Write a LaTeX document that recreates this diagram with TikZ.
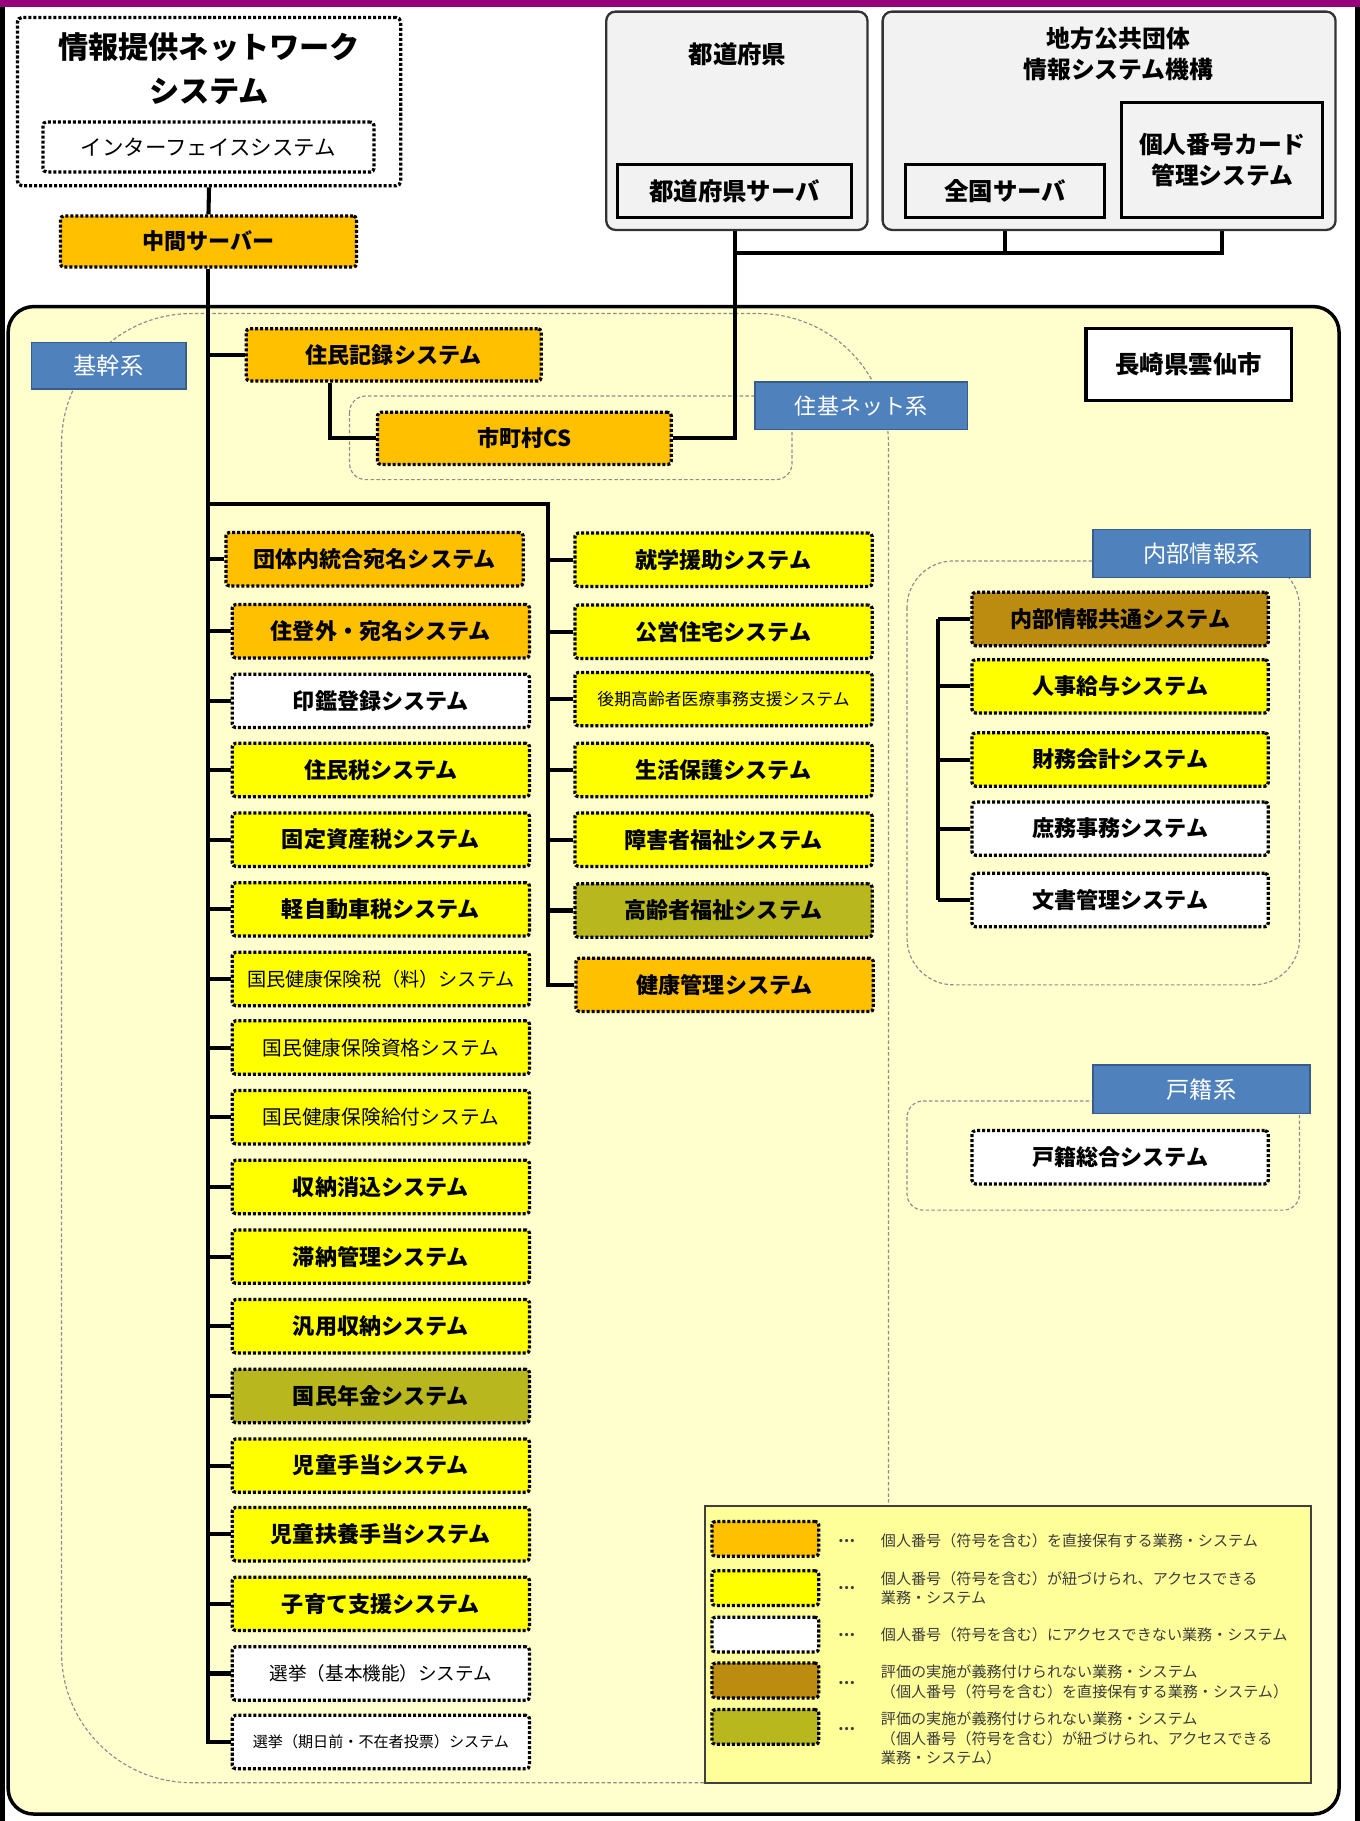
\documentclass[tikz,border=0pt]{standalone}
\usepackage{fontspec}
\newfontfamily\jp{Noto Sans CJK JP}
\definecolor{purpleband}{RGB}{150,0,120}
\definecolor{orng}{RGB}{255,192,0}
\definecolor{ylw}{RGB}{255,255,0}
\definecolor{brwn}{RGB}{188,140,16}
\definecolor{olv}{RGB}{184,184,30}
\definecolor{bigfill}{RGB}{255,255,206}
\definecolor{legfill}{RGB}{255,255,153}
\definecolor{lblue}{RGB}{79,129,189}
\definecolor{lblueb}{RGB}{56,93,138}
\definecolor{grayfill}{RGB}{242,242,242}
\definecolor{regline}{RGB}{140,140,140}
\definecolor{legtext}{RGB}{60,60,60}
\pgfdeclarelayer{bg}
\pgfdeclarelayer{conn}
\pgfsetlayers{bg,conn,main}
\tikzset{
  sysbox/.style={draw=black, line width=2.8pt, dash pattern=on 2.6pt off 1.7pt,
    rounded corners=3pt, minimum width=256pt, minimum height=46pt, inner sep=0pt, text=black},
  orbox/.style={sysbox, fill=orng},
  ylbox/.style={sysbox, fill=ylw},
  whbox/.style={sysbox, fill=white},
  brbox/.style={sysbox, fill=brwn},
  olbox/.style={sysbox, fill=olv},
  bt/.style={font=\jp\bfseries\fontsize{#1}{#1}\selectfont},
  rt/.style={font=\jp\fontsize{#1}{#1}\selectfont},
  graybox/.style={draw=black!80, line width=2pt, fill=grayfill, rounded corners=8pt},
  srvbox/.style={draw=black, line width=2.5pt, fill=grayfill, inner sep=0pt},
  lbl/.style={draw=lblueb, line width=1.2pt, fill=lblue, text=white, inner sep=0pt,
    font=\jp\fontsize{20}{20}\selectfont},
  region/.style={draw=regline, line width=1pt, dash pattern=on 3pt off 2pt},
  conn/.style={draw=black, line width=3.5pt},
  swatch/.style={sysbox, minimum width=92pt, minimum height=30pt},
  legt/.style={anchor=west, align=left, text=legtext, font=\jp\fontsize{13}{17}\selectfont},
}
\begin{document}
\begin{tikzpicture}[x=1pt,y=-1pt]
\useasboundingbox (0,0) rectangle (1171,1568);
\begin{pgfonlayer}{bg}
\fill[white] (0,0) rectangle (1171,1568);
\fill[purpleband] (0,0) rectangle (1171,6);
\draw[line width=4pt] (2,6) -- (2,1568);
\draw[line width=4pt] (1169,6) -- (1169,1568);
\draw[line width=3pt, fill=bigfill, rounded corners=22pt] (7,264) rectangle (1153,1562);
\draw[region, rounded corners=112pt] (53,270) rectangle (765,1535);
\draw[region, rounded corners=14pt] (301,341) rectangle (682,413);
\draw[region, rounded corners=40pt] (781,483) rectangle (1119,848);
\draw[region, rounded corners=14pt] (781,948) rectangle (1119,1042);
\end{pgfonlayer}

% ---------- top ----------
\node[sysbox, minimum width=330pt, minimum height=145pt, rounded corners=4pt] (nw) at (180,87.5) {};
\node[align=center, font=\jp\bfseries\fontsize{26}{38}\selectfont] (nwt) at (180,59) {情報提供ネットワーク\\システム};
\node[sysbox, minimum width=285pt, minimum height=43pt, rt=18.5] (iface) at (179.5,126.5) {インターフェイスシステム};
\node[orbox, minimum width=255pt, minimum height=44pt, bt=19] (mid) at (179.5,208) {中間サーバー};

\node[graybox, minimum width=225pt, minimum height=188pt] (pref) at (634.5,104) {};
\node[bt=21] (preft) at (635,47) {都道府県};
\node[srvbox, minimum width=201pt, minimum height=45pt, bt=21] (prefsrv) at (632.5,164.5) {都道府県サーバ};

\node[graybox, minimum width=390pt, minimum height=188pt] (jlis) at (955,104) {};
\node[align=center, font=\jp\bfseries\fontsize{20.5}{27}\selectfont] (jlist) at (963,46.5) {地方公共団体\\情報システム機構};
\node[srvbox, minimum width=171pt, minimum height=45pt, bt=21] (natsrv) at (865.5,164.5) {全国サーバ};
\node[srvbox, minimum width=173pt, minimum height=99pt, align=center, font=\jp\bfseries\fontsize{20.5}{27}\selectfont] (cardsys) at (1052.5,137.5) {個人番号カード\\管理システム};

\node[draw=black, line width=3pt, fill=white, minimum width=177pt, minimum height=62pt, bt=21] (city) at (1023.5,314) {長崎県雲仙市};

\node[lbl, minimum width=133pt, minimum height=40pt] (kikanlbl) at (93.5,315) {基幹系};
\node[lbl, minimum width=183pt, minimum height=41pt, font=\jp\fontsize{19}{19}\selectfont] (jukilbl) at (741.5,349.5) {住基ネット系};
\node[lbl, minimum width=187pt, minimum height=41pt] (naibulbl) at (1034.5,476.5) {内部情報系};
\node[lbl, minimum width=187pt, minimum height=42pt] (kosekilbl) at (1034.5,938) {戸籍系};

\node[orbox, minimum width=254pt, minimum height=45pt, bt=19] (jumin) at (339,305.5) {住民記録システム};
\node[orbox, minimum width=253pt, minimum height=45pt, bt=19] (cs) at (451.5,377.5) {市町村CS};

% left column
\node[orbox, bt=19] (l1) at (322.5,481.5) {団体内統合宛名システム};
\node[orbox, bt=19] (l2) at (328,543.5) {住登外・宛名システム};
\node[whbox, bt=19] (l3) at (328,603.5) {印鑑登録システム};
\node[ylbox, bt=19] (l4) at (328,663) {住民税システム};
\node[ylbox, bt=19] (l5) at (328,723) {固定資産税システム};
\node[ylbox, bt=19] (l6) at (328,783) {軽自動車税システム};
\node[ylbox, rt=16.5] (l7) at (328,843) {国民健康保険税（料）システム};
\node[ylbox, rt=17] (l8) at (328,902) {国民健康保険資格システム};
\node[ylbox, rt=17] (l9) at (328,962) {国民健康保険給付システム};
\node[ylbox, bt=19] (l10) at (328,1022) {収納消込システム};
\node[ylbox, bt=19] (l11) at (328,1082) {滞納管理システム};
\node[ylbox, bt=19] (l12) at (328,1142) {汎用収納システム};
\node[olbox, bt=19] (l13) at (328,1202) {国民年金システム};
\node[ylbox, bt=19] (l14) at (328,1262) {児童手当システム};
\node[ylbox, bt=19] (l15) at (328,1321) {児童扶養手当システム};
\node[ylbox, bt=19] (l16) at (328,1381) {子育て支援システム};
\node[whbox, rt=16] (l17) at (328,1441) {選挙（基本機能）システム};
\node[whbox, rt=13] (l18) at (328,1500) {選挙（期日前・不在者投票）システム};

% right column
\node[ylbox, bt=19] (r1) at (623,482) {就学援助システム};
\node[ylbox, bt=19] (r2) at (623,544) {公営住宅システム};
\node[ylbox, rt=14.5] (r3) at (623,602) {後期高齢者医療事務支援システム};
\node[ylbox, bt=19] (r4) at (623,663) {生活保護システム};
\node[ylbox, bt=19] (r5) at (623,723) {障害者福祉システム};
\node[olbox, bt=19] (r6) at (623,784) {高齢者福祉システム};
\node[orbox, bt=19] (r7) at (624,848) {健康管理システム};

% internal
\node[brbox, minimum width=255pt, bt=19] (n1) at (964.5,533) {内部情報共通システム};
\node[ylbox, minimum width=255pt, bt=19] (n2) at (964.5,591) {人事給与システム};
\node[ylbox, minimum width=255pt, bt=19] (n3) at (964.5,654) {財務会計システム};
\node[whbox, minimum width=255pt, bt=19] (n4) at (964.5,713.5) {庶務事務システム};
\node[whbox, minimum width=255pt, bt=19] (n5) at (964.5,775) {文書管理システム};

% koseki
\node[whbox, minimum width=255pt, bt=19] (kos) at (964.5,996.5) {戸籍総合システム};

% ---------- connectors ----------
\coordinate (rbus) at (472,434);
\coordinate (ibus) at (808,533);
\coordinate (topbus) at (632.5,218);
\begin{pgfonlayer}{conn}
\draw[conn] (nw.south) -- (mid.north);
\draw[conn] (mid.south) |- (l18.west);
\draw[conn] (mid.south |- jumin.west) -- (jumin.west);
\draw[conn] ([xshift=-55pt]jumin.south) |- (cs.west);
\draw[conn] (prefsrv.south) |- (cs.east);
\draw[conn] (topbus) -| (cardsys.south);
\draw[conn] (natsrv.south) -- (natsrv.south |- topbus);
\foreach \n in {l1,l2,l3,l4,l5,l6,l7,l8,l9,l10,l11,l12,l13,l14,l15,l16,l17}
  \draw[conn] (mid.south |- \n.west) -- (\n.west);
\draw[conn] (mid.south |- rbus) -- (rbus) |- (r7.west);
\foreach \n in {r1,r2,r3,r4,r5,r6}
  \draw[conn] (rbus |- \n.west) -- (\n.west);
\draw[conn] (ibus |- n1.west) -- (ibus |- n5.west);
\foreach \n in {n1,n2,n3,n4,n5}
  \draw[conn] (ibus |- \n.west) -- (\n.west);
\end{pgfonlayer}

% ---------- legend ----------
\node[draw=black!75, line width=2pt, fill=legfill, minimum width=522pt, minimum height=238pt, inner sep=0pt] (legend) at (868,1416) {};
\node[swatch, fill=orng] (s1) at (659,1325) {};
\node[swatch, fill=ylw] (s2) at (659,1367.5) {};
\node[swatch, fill=white] (s3) at (659,1407.5) {};
\node[swatch, fill=brwn] (s4) at (659,1447) {};
\node[swatch, fill=olv] (s5) at (659,1487) {};
\foreach \i/\y in {1/1327,2/1367,3/1408,4/1449,5/1489}
  \node[text=legtext, font=\jp\bfseries\fontsize{13}{13}\selectfont] (d\i) at (729,\y) {…};
\node[legt] (t1) at (755,1327) {個人番号（符号を含む）を直接保有する業務・システム};
\node[legt] (t2) at (755,1367.5) {個人番号（符号を含む）が紐づけられ、アクセスできる\\業務・システム};
\node[legt] (t3) at (755,1408) {個人番号（符号を含む）にアクセスできない業務・システム};
\node[legt] (t4) at (755,1448) {評価の実施が義務付けられない業務・システム\\（個人番号（符号を含む）を直接保有する業務・システム）};
\node[legt] (t5) at (755,1497) {評価の実施が義務付けられない業務・システム\\（個人番号（符号を含む）が紐づけられ、アクセスできる\\業務・システム）};
\end{tikzpicture}
\end{document}
